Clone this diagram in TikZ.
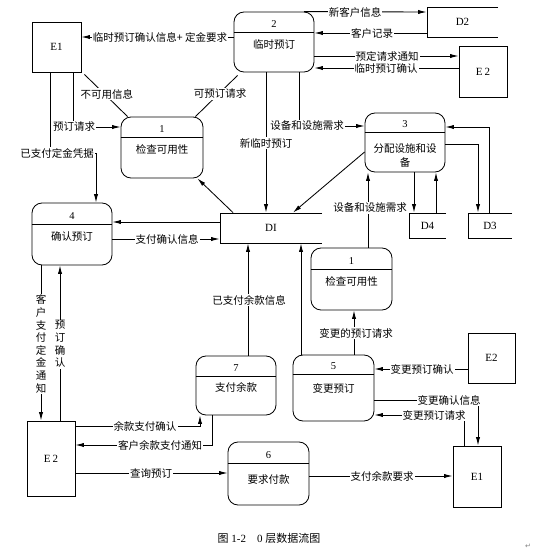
\documentclass[tikz,border=0pt]{standalone}
\usepackage{fontspec}
\setmainfont{Liberation Serif}
\newfontfamily\cjk{Noto Sans CJK SC}
\newfontfamily\symf{DejaVu Sans}
\usetikzlibrary{arrows.meta}
% name, x1, y1, x2, y2, divider y, number, text y, text
\newcommand\procbox[9]{%
  \node[proc, minimum width={(#4-#2)*1pt}, minimum height={(#5-#3)*1pt}] (#1) at ({(#2+#4)/2},{(#3+#5)/2}) {};
  \draw (#1.west |- 0,#6) -- (#1.east |- 0,#6);
  \node[pnum] (#1n) at ({(#2+#4)/2},{#6-8}) {#7};
  \node[ptxt, align=center] (#1t) at ({(#2+#4)/2},#8) {#9};
}
\begin{document}
\begin{tikzpicture}[x=1pt,y=-1pt,
  line width=0.85pt,
  arr/.style={-{Latex[length=8.5pt,width=4.2pt]}},
  proc/.style={draw, rounded corners=10pt, inner sep=0pt},
  ent/.style={draw, inner sep=0pt, font=\fontsize{11}{13}\selectfont},
  store/.style={inner sep=0pt, font=\fontsize{11}{13}\selectfont},
  lbl/.style={fill=white, inner sep=1pt, font=\cjk\fontsize{10.5}{12}\selectfont},
  vlbl/.style={fill=white, inner sep=1pt, align=center, font=\cjk\fontsize{10.5}{12.6}\selectfont},
  ptxt/.style={inner sep=0pt, font=\cjk\fontsize{10.5}{14}\selectfont},
  pnum/.style={inner sep=0pt, font=\fontsize{10.5}{12}\selectfont},
]
\useasboundingbox[fill=white] (0,0) rectangle (533,550);

% ---------- external entities ----------
\node[ent, minimum width=49pt, minimum height=50pt] (e1a) at (56.5,47) {E1};
\node[ent, minimum width=48pt, minimum height=51pt] (e2a) at (483,71.5) {E\,2};
\node[ent, minimum width=47pt, minimum height=50pt] (e2b) at (491.5,358) {E2};
\node[ent, minimum width=48pt, minimum height=61pt] (e1b) at (477,476.5) {E1};
\node[ent, minimum width=48pt, minimum height=75pt] (e2c) at (51,458.5) {E\,2};

% ---------- processes ----------
\procbox{p2}{234}{12}{314}{72}{32}{2}{44}{临时预订}
\procbox{p1a}{121}{117}{203}{178}{137}{1}{149}{检查可用性}
\procbox{p3}{365}{113}{445}{172}{132}{3}{155}{分配设施和设\\备}
\procbox{p4}{32}{203}{112}{265}{224}{4}{236}{确认预订}
\procbox{p1b}{311}{248}{392}{310}{269}{1}{281}{检查可用性}
\procbox{p5}{293}{355}{374}{421}{374}{5}{388}{变更预订}
\procbox{p7}{196}{356}{276}{415}{376}{7}{387}{支付余款}
\procbox{p6}{228}{442}{309}{505}{463}{6}{480}{要求付款}

% ---------- data stores ----------
\node[store, minimum width=102pt, minimum height=30pt] (d1) at (271,228) {DI};
\draw (322,213) -- (220,213) -- (220,243) -- (322,243);
\node[store, minimum width=71pt, minimum height=30pt] (d2) at (462.5,22) {D2};
\draw (498,7) -- (427,7) -- (427,37) -- (498,37);
\node[store, minimum width=37pt, minimum height=25pt] (d4) at (427.5,225.5) {D4};
\draw (446,213) -- (409,213) -- (409,238) -- (446,238);
\node[store, minimum width=44pt, minimum height=25pt] (d3) at (490,225.5) {D3};
\draw (512,213) -- (468,213) -- (468,238) -- (512,238);

% ---------- flows ----------
\draw[arr] (p2.west |- 0,37) -- (e1a.east |- 0,37);
\node[lbl] (l1) at (160,37) {临时预订确认信息+ 定金要求};

\draw ([shift={(3,2)}]e1a.south east) -- ([xshift=7pt]p1a.north west);
\node[lbl] (l2) at (107,94) {不可用信息};

\draw ([xshift=-8pt]p1a.north east) -- ([shift={(4,3)}]p2.south west);
\node[lbl] (l3) at (220,94) {可预订请求};

\draw[arr] (73,0 |- e1a.south) -- (73,127) -- (p1a.west |- 0,127);
\node[lbl] (l4) at (74,127) {预订请求};

\draw[arr] (50,0 |- e1a.south) -- (50,153) -- (96,153) -- (96,0 |- p4.north);
\node[lbl] (l5) at (57,153) {已支付定金凭据};

\draw[arr] (266,0 |- p2.south) -- (266,0 |- d1.north);
\node[lbl] (l6) at (266,143) {新临时预订};

\draw[arr] (299,0 |- p2.south) -- (299,126) -- (p3.west |- 0,126);
\node[lbl] (l7) at (307,126) {设备和设施需求};

\draw[arr] (p3.west |- 0,152) -- (293,0 |- d1.north);
\draw[arr] (233,0 |- d1.north) -- ([xshift=-6pt]p1a.south east);

\draw[arr] (d1.west |- 0,222) -- (p4.east |- 0,222);
\draw[arr] (p4.east |- 0,239) -- (d1.west |- 0,239);
\node[lbl] (l8) at (167,239) {支付确认信息};

\draw[arr] (368,0 |- p1b.north) -- (368,0 |- p3.south);
\node[lbl] (l9) at (370,208) {设备和设施需求};

\draw[arr] (414,0 |- p3.south) -- (414,0 |- d4.north);
\draw[arr] (436,0 |- d4.north) -- (436,0 |- p3.south);
\draw[arr] (489,0 |- d3.north) -- (489,127) -- (p3.east |- 0,127);
\draw[arr] (p3.east |- 0,144) -- (478,144) -- (478,0 |- d3.north);

\draw[arr] (304,0 |- p2.north) -- (d2.west |- 0,12);
\node[lbl] (l10) at (355,12) {新客户信息};
\draw[arr] (d2.west |- 0,33) -- (p2.east |- 0,33);
\node[lbl] (l11) at (372,33) {客户记录};
\draw[arr] (p2.east |- 0,56) -- (e2a.west |- 0,56);
\node[lbl] (l12) at (387,56) {预定请求通知};
\draw[arr] (e2a.west |- 0,68) -- (p2.east |- 0,68);
\node[lbl] (l13) at (386,68) {临时预订确认};

\draw[arr] (248,0 |- p7.north) -- (248,0 |- d1.south);
\node[lbl] (l14) at (249,300) {已支付余款信息};
\draw[arr] (301,0 |- p5.north) -- (301,0 |- d1.south);
\draw[arr] (354,0 |- p5.north) -- (354,0 |- p1b.south);
\node[lbl] (l15) at (356,333) {变更的预订请求};

\draw[arr] (e2b.west |- 0,369) -- (p5.east |- 0,369);
\node[lbl] (l16) at (422,369) {变更预订确认};
\draw[arr] (p5.east |- 0,400) -- (478,400) -- (478,0 |- e1b.north);
\node[lbl] (l17) at (449,400) {变更确认信息};
\draw[arr] (464,0 |- e1b.north) -- (464,415) -- (p5.east |- 0,415);
\node[lbl] (l18) at (434,415) {变更预订请求};

\draw[arr] (e2c.east |- 0,426) -- (200,426) -- (200,0 |- p7.south);
\node[lbl] (l19) at (145,426) {余款支付确认};
\draw[arr] (212,0 |- p7.south) -- (212,445) -- (e2c.east |- 0,445);
\node[lbl] (l20) at (160,445) {客户余款支付通知};
\draw[arr] (e2c.east |- 0,473) -- (p6.west |- 0,473);
\node[lbl] (l21) at (151,473) {查询预订};
\draw[arr] (p6.east |- 0,476) -- (e1b.west |- 0,476);
\node[lbl] (l22) at (382,476) {支付余款要求};

\draw[arr] (41,0 |- p4.south) -- (41,0 |- e2c.north);
\node[vlbl] (l23) at (41,344) {客\\户\\支\\付\\定\\金\\通\\知};
\draw[arr] (60,0 |- e2c.north) -- (60,0 |- p4.south);
\node[vlbl] (l24) at (60,344) {预\\订\\确\\认};

% ---------- caption ----------
\node[inner sep=0pt, font=\fontsize{11}{13}\selectfont] (cap) at (269,538) {{\cjk 图} 1-2\quad 0 {\cjk 层数据流图}};
\node[inner sep=0pt, text=gray, font=\symf\fontsize{7}{8}\selectfont] (ret) at (528,546) {↵};
\end{tikzpicture}
\end{document}
